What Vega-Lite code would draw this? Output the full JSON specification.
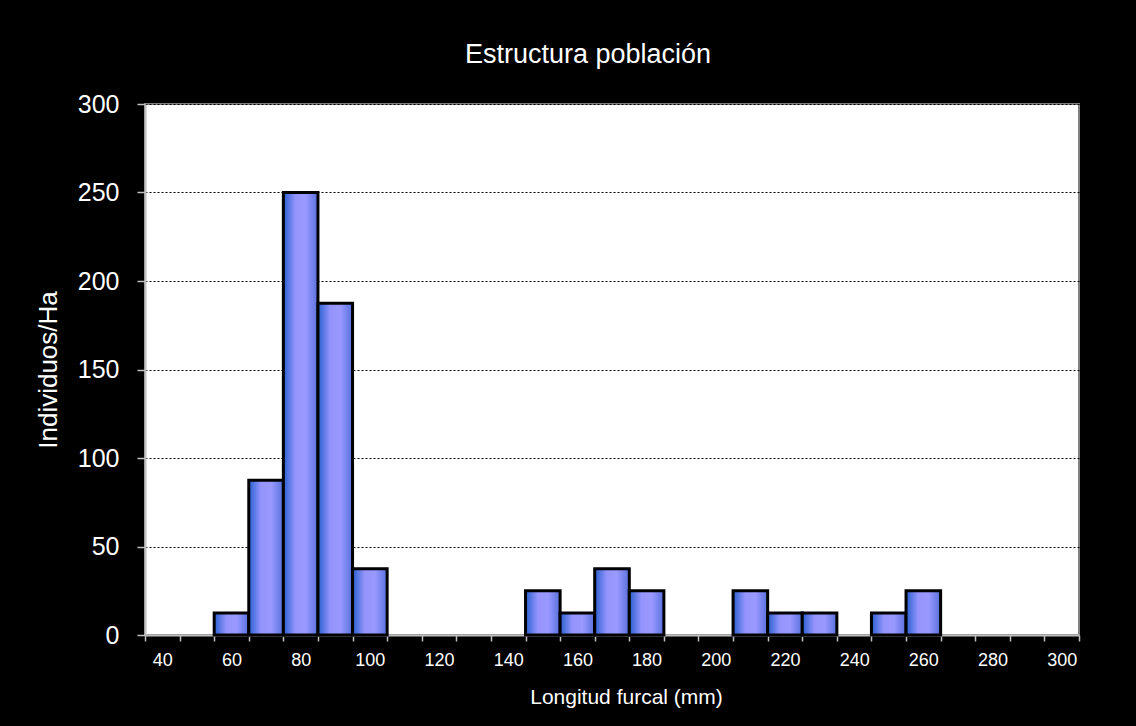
{
  "$schema": "https://vega.github.io/schema/vega-lite/v6.json",
  "width": 934,
  "height": 531,
  "autosize": "none",
  "padding": {"left": 145, "top": 104, "right": 57, "bottom": 91},
  "background": "black",
  "config": {
    "font": "Liberation Sans",
    "view": {"fill": "white", "stroke": "#808080", "strokeWidth": 2}
  },
  "title": {
    "text": "Estructura población",
    "color": "white",
    "fontSize": 27,
    "fontWeight": "normal",
    "font": "Liberation Sans",
    "anchor": "middle",
    "dx": -24,
    "offset": 23
  },
  "data": {
    "values": [
      {"lo": 55, "hi": 65, "n": 12.5},
      {"lo": 65, "hi": 75, "n": 87.5},
      {"lo": 75, "hi": 85, "n": 250},
      {"lo": 85, "hi": 95, "n": 187.5},
      {"lo": 95, "hi": 105, "n": 37.5},
      {"lo": 145, "hi": 155, "n": 25},
      {"lo": 155, "hi": 165, "n": 12.5},
      {"lo": 165, "hi": 175, "n": 37.5},
      {"lo": 175, "hi": 185, "n": 25},
      {"lo": 205, "hi": 215, "n": 25},
      {"lo": 215, "hi": 225, "n": 12.5},
      {"lo": 225, "hi": 235, "n": 12.5},
      {"lo": 245, "hi": 255, "n": 12.5},
      {"lo": 255, "hi": 265, "n": 25}
    ]
  },
  "layer": [
    {
      "mark": {
        "type": "bar",
        "fill": {
          "gradient": "linear",
          "x1": 0, "x2": 1, "y1": 0, "y2": 0,
          "stops": [
            {"offset": 0, "color": "#2860d0"},
            {"offset": 0.35, "color": "#9494fc"},
            {"offset": 0.65, "color": "#9999ff"},
            {"offset": 1, "color": "#5870dc"}
          ]
        },
        "stroke": "black",
        "strokeWidth": 3
      },
      "encoding": {
        "x": {
          "field": "lo",
          "type": "quantitative",
          "scale": {"domain": [35, 305], "nice": false, "zero": false},
          "axis": {
            "orient": "bottom",
            "values": [40, 60, 80, 100, 120, 140, 160, 180, 200, 220, 240, 260, 280, 300],
            "ticks": false,
            "grid": false,
            "domain": true,
            "domainColor": "#c0c0c0",
            "domainWidth": 2,
            "labelColor": "white",
            "labelFontSize": 18,
            "labelPadding": 16,
            "labelFont": "Liberation Sans",
            "title": "Longitud furcal (mm)",
            "titleColor": "white",
            "titleFontSize": 21,
            "titleFontWeight": "normal",
            "titleFont": "Liberation Sans",
            "titlePadding": 17,
            "titleX": 481
          }
        },
        "x2": {"field": "hi"},
        "y": {
          "field": "n",
          "type": "quantitative",
          "scale": {"domain": [0, 300], "nice": false},
          "axis": {
            "values": [0, 50, 100, 150, 200, 250, 300],
            "grid": true,
            "gridColor": "black",
            "gridDash": [2, 2],
            "gridWidth": 1,
            "domainColor": "#c0c0c0",
            "domainWidth": 2,
            "tickColor": "#c0c0c0",
            "tickSize": 8,
            "tickWidth": 1.5,
            "labelColor": "white",
            "labelFontSize": 25,
            "labelPadding": 18,
            "labelFont": "Liberation Sans",
            "title": "Individuos/Ha",
            "titleColor": "white",
            "titleFontSize": 26,
            "titleFontWeight": "normal",
            "titleFont": "Liberation Sans",
            "titlePadding": 16
          }
        },
        "y2": {"datum": 0}
      }
    },
    {
      "mark": {"type": "rule", "opacity": 0},
      "encoding": {
        "x": {
          "field": "lo",
          "type": "quantitative",
          "axis": {
            "orient": "bottom",
            "values": [35, 45, 55, 65, 75, 85, 95, 105, 115, 125, 135, 145, 155, 165, 175, 185, 195, 205, 215, 225, 235, 245, 255, 265, 275, 285, 295, 305],
            "labels": false,
            "domain": false,
            "grid": false,
            "ticks": true,
            "tickColor": "#c0c0c0",
            "tickSize": 6,
            "tickWidth": 1.5,
            "title": null
          }
        }
      }
    }
  ],
  "resolve": {"axis": {"x": "independent"}}
}
